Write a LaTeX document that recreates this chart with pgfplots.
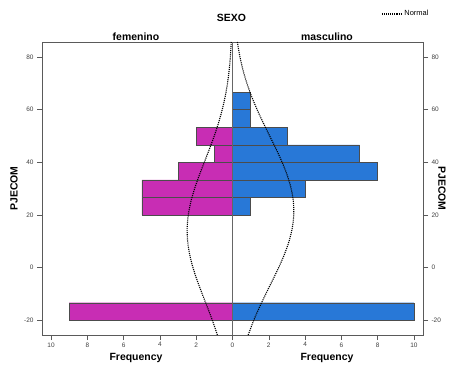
\documentclass[border=0pt]{standalone}
\usepackage{pgfplots}
\pgfplotsset{compat=1.18}
\usepackage{fontspec}
\setmainfont{Liberation Sans}
\definecolor{fem}{RGB}{200,45,180}
\definecolor{mas}{RGB}{40,120,215}
\definecolor{frame}{RGB}{90,90,90}
\begin{document}
\begin{tikzpicture}[x=1bp,y=1bp]
\useasboundingbox (0,0) rectangle (455,365);
\begin{axis}[at={(42bp,30bp)}, anchor=south west, scale only axis,
  width=381bp, height=293bp,
  xmin=-10.5, xmax=10.5, ymin=-25.6, ymax=85.7,
  axis line style={frame, line width=0.6pt},
  tick style={frame, line width=0.5pt},
  tick align=outside, major tick length=5bp,
  xtick={-10,-8,...,10}, xticklabels={10,8,6,4,2,0,2,4,6,8,10},
  xtick pos=bottom,
  ytick={-20,0,20,40,60,80}, ytick pos=both, yticklabel pos=left,
  /pgf/number format/assume math mode=true,
  ticklabel style={font=\fontsize{6.5}{7}\selectfont, text=black!75},
  xticklabel style={yshift=1bp},
  ylabel={\bfseries PJECOM},
  ylabel style={at={(axis description cs:-0.0735,0.5)}, anchor=center, font=\fontsize{10.5}{12}\selectfont},
  clip=false,
  legend style={at={(axis description cs:1.02,1.0956)}, anchor=east, draw=none, fill=none,
    font=\fontsize{7.5}{8}\selectfont, inner sep=0pt,
    legend cell align=left},
  legend image code/.code={\draw[#1] (0bp,0bp) -- (20bp,0bp);},
]
\addplot[xbar, bar width=6.6667, fill=fem, draw=black!70, line width=0.4pt, forget plot]
  coordinates {(-5,23.333) (-5,30) (-3,36.667) (-1,43.333) (-2,50) (-9,-16.667)};
\addplot[xbar, bar width=6.6667, fill=mas, draw=black!70, line width=0.4pt, forget plot]
  coordinates {(1,23.333) (4,30) (8,36.667) (7,43.333) (3,50) (1,56.667) (1,63.333) (10,-16.667)};
\addplot[black!60, line width=0.5pt, forget plot] coordinates {(0,-25.6) (0,85.7)};
\addplot[black, densely dotted, line width=1.1pt, smooth]
  coordinates {(-0.832,-25.6) (-1.111,-20) (-1.386,-15) (-1.669,-10) (-1.941,-5) (-2.179,0)
  (-2.362,5) (-2.472,10) (-2.498,15) (-2.438,20) (-2.297,25) (-2.089,30) (-1.835,35)
  (-1.556,40) (-1.274,45) (-1.007,50) (-0.769,55) (-0.567,60) (-0.403,65) (-0.277,70)
  (-0.184,75) (-0.118,80) (-0.068,85.7)};
\addlegendentry{Normal}
\addplot[black, densely dotted, line width=1.1pt, smooth, forget plot]
  coordinates {(0.863,-25.6) (1.171,-20) (1.489,-15) (1.835,-10) (2.194,-5) (2.543,0)
  (2.859,5) (3.116,10) (3.293,15) (3.375,20) (3.355,25) (3.233,30) (3.021,35)
  (2.738,40) (2.406,45) (2.050,50) (1.694,55) (1.357,60) (1.055,65) (0.794,70)
  (0.580,75) (0.411,80) (0.267,85.7)};
\node[font=\bfseries\fontsize{10.5}{12}\selectfont] at (axis description cs:0.497,1.082) {SEXO};
\node[font=\bfseries\fontsize{10.5}{12}\selectfont] at (axis description cs:0.2467,1.017) {femenino};
\node[font=\bfseries\fontsize{10.5}{12}\selectfont] at (axis description cs:0.748,1.017) {masculino};
\node[font=\bfseries\fontsize{10.5}{12}\selectfont] at (axis description cs:0.2467,-0.0785) {Frequency};
\node[font=\bfseries\fontsize{10.5}{12}\selectfont] at (axis description cs:0.748,-0.0785) {Frequency};
\end{axis}
\begin{axis}[at={(42bp,30bp)}, anchor=south west, scale only axis,
  width=381bp, height=293bp,
  xmin=-10.5, xmax=10.5, ymin=-25.6, ymax=85.7,
  hide x axis, axis y line*=right,
  axis line style={frame, line width=0.6pt},
  tick style={frame, line width=0.5pt},
  tick align=outside, major tick length=5bp,
  ytick={-20,0,20,40,60,80},
  /pgf/number format/assume math mode=true,
  ticklabel style={font=\fontsize{6.5}{7}\selectfont, text=black!75},
  ylabel={\bfseries PJECOM},
  ylabel style={at={(axis description cs:1.0499,0.5)}, anchor=center, rotate=180, font=\fontsize{10.5}{12}\selectfont},
]
\addplot[draw=none, forget plot] coordinates {(0,0)};
\end{axis}
\end{tikzpicture}
\end{document}
